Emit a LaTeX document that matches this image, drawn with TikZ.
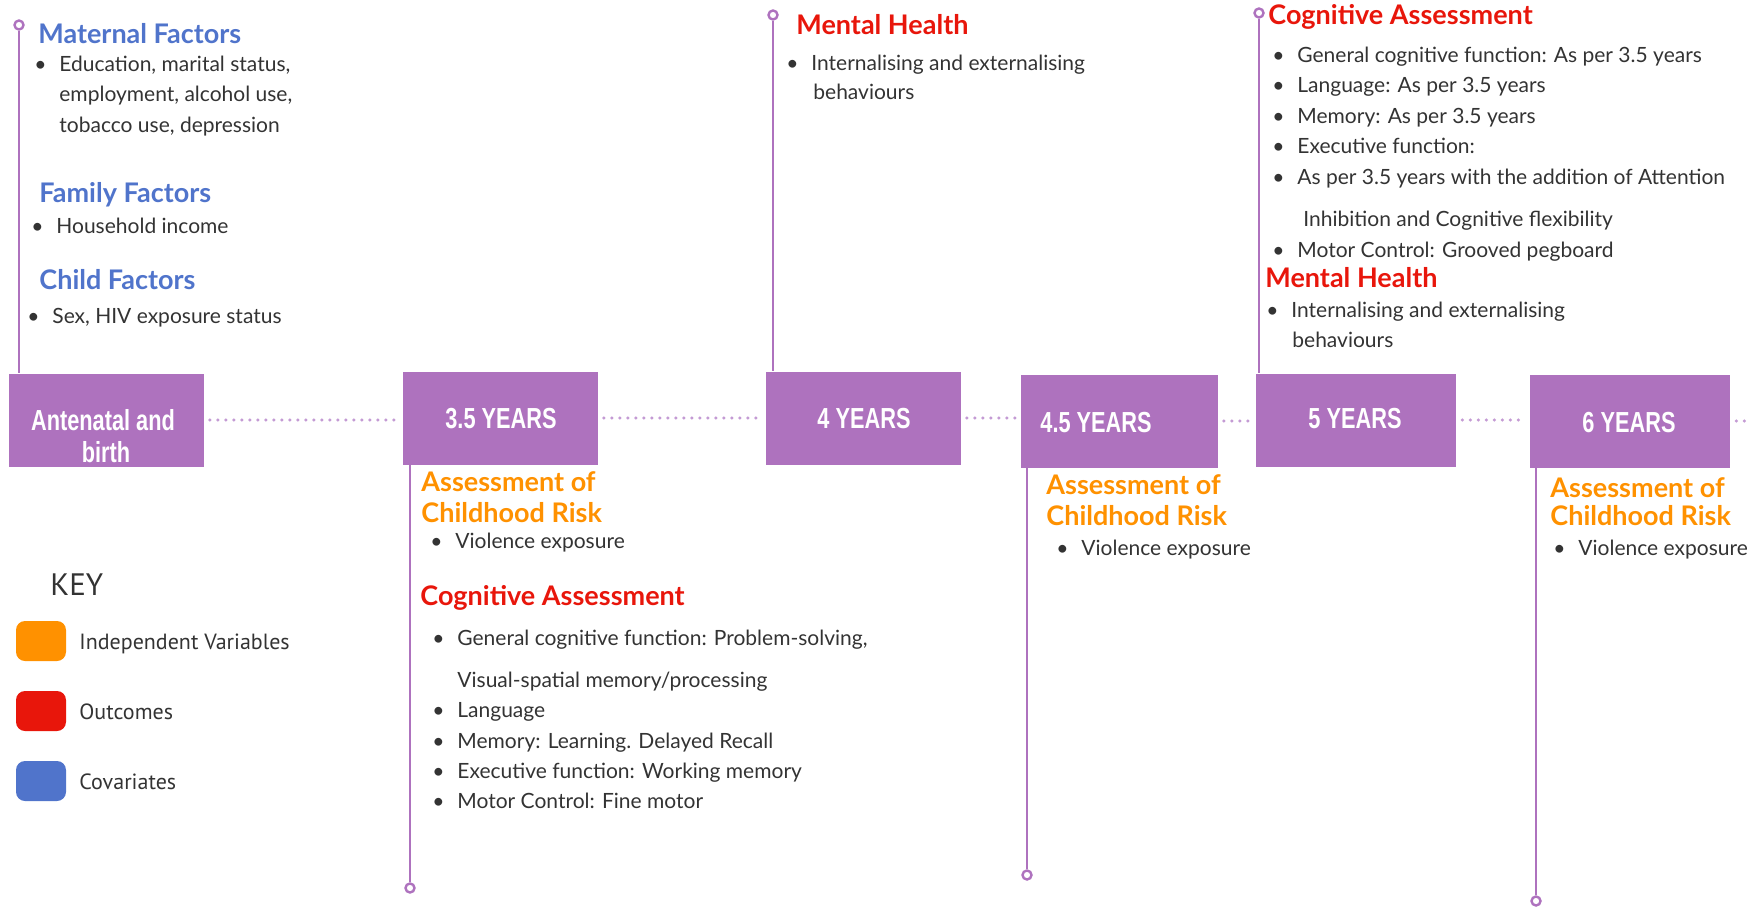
\documentclass[tikz,border=0pt]{standalone}
\usepackage{fontspec}
\setmainfont{Lato}
\newfontfamily\yearfont[FakeStretch=0.75]{Liberation Sans}
\newfontfamily\keyfont{PT Sans}

\definecolor{tlpurple}{HTML}{AE72BE}
\definecolor{tldots}{HTML}{C49BD4}
\definecolor{covblue}{HTML}{5074CB}
\definecolor{indorange}{HTML}{FF9100}
\definecolor{outred}{HTML}{E8160B}
\definecolor{txtgray}{HTML}{333333}

\newcommand{\tlbul}[1]{\makebox[9pt][l]{\hspace{-3.5pt}\textbullet}#1}

\tikzset{
	yearbox/.style={fill=tlpurple, minimum height=46.5pt, inner sep=0pt},
	yeartxt/.style={anchor=base, inner sep=0pt, text=white, font=\yearfont\bfseries\fontsize{14.5}{16}\selectfont},
	tlstem/.style={tlpurple, line width=1.4pt},
	endpt/.style={circle, draw=tlpurple, fill=white, line width=1.2pt, minimum size=4.5pt, inner sep=0pt},
	tldotline/.style={tldots, line width=1.7pt, line cap=round, dash pattern=on 0pt off 4pt, shorten <=3pt, shorten >=2pt},
	hd/.style={anchor=base west, inner sep=0pt, font=\bfseries\fontsize{13.5}{15}\selectfont},
	hdcov/.style={hd, text=covblue},
	hdind/.style={hd, text=indorange},
	hdout/.style={hd, text=outred},
	bodytxt/.style={anchor=base west, inner sep=0pt, text=txtgray, font=\fontsize{10.5}{12}\selectfont},
	swatch/.style={rounded corners=4.5pt, minimum width=25pt, minimum height=20pt, inner sep=0pt},
	keytxt/.style={anchor=base west, inner sep=0pt, text=txtgray, font=\keyfont\fontsize{11}{13}\selectfont}
}

\begin{document}
\begin{tikzpicture}[x=0.5pt, y=-0.5pt]
	\useasboundingbox (0,0) rectangle (1755,909);

	% time line boxes
	\foreach \n/\x/\y/\w in {ante/106/420/195, y35/500/418/195, y4/863/418/195, y45/1119/421/197, y5/1356/420/200, y6/1630/421/200}
	{
		\node[yearbox, minimum width=\w*0.5pt] (\n) at (\x,\y) {};
	}
	\node[yeartxt] (ante-t1) at (103,430) {Antenatal and};
	\node[yeartxt] (ante-t2) at (106,462) {birth};
	\foreach \n/\x/\y/\t in {y35/501/428/3.5 YEARS, y4/864/428/4 YEARS, y45/1096/432/4.5 YEARS, y5/1355/428/5 YEARS, y6/1629/432/6 YEARS}
	{
		\node[yeartxt] (\n-t) at (\x,\y) {\t};
	}

	\coordinate (lineend) at (1755,421);
	\foreach \a/\b in {ante/y35, y35/y4, y4/y45, y45/y5, y5/y6}
	{
		\draw[tldotline] (\a.east) -- (\a.east -| \b.west);
	}
	\draw[tldotline] (y6.east) -- (y6.east -| lineend);

	% stems
	\foreach \n/\x/\y/\s in {ante/19/25/north, y4/773/15/north, y5/1259/13/north, y35/410/888/south, y45/1027/875/south, y6/1536/901/south}
	{
		\node[endpt] (p-\n) at (\x,\y) {};
		\draw[tlstem] (p-\n) -- (p-\n |- \n.\s);
	}

	% antenatal
	\node[hdcov] (mat) at (38,44) {Maternal Factors};
	\foreach \x/\y/\t [count=\i] in {41/72/{\tlbul{Education, marital status,}}, 59/102/{employment, alcohol use,}, 59/133/{tobacco use, depression}}
	{
		\node[bodytxt] (mat\i) at (\x,\y) {\t};
	}
	\node[hdcov] (fam) at (39,203) {Family Factors};
	\node[bodytxt] (fam1) at (38,234) {\tlbul{Household income}};
	\node[hdcov] (chi) at (39,289) {Child Factors};
	\node[bodytxt] (chi1) at (34,323) {\tlbul{Sex, HIV exposure status}};

	% 3.5 years
	\node[hdind] (r35a) at (421,491) {Assessment of};
	\node[hdind] (r35b) at (421,522) {Childhood Risk};
	\node[bodytxt] (r35c) at (437,548) {\tlbul{Violence exposure}};
	\node[hdout] (c35) at (420,605) {Cognitive Assessment};
	\foreach \x/\y/\t [count=\i] in {439/645/{\tlbul{General cognitive function: Problem-solving,}}, 457/687/{Visual-spatial memory/processing}, 439/717/{\tlbul{Language}}, 439/748/{\tlbul{Memory: Learning. Delayed Recall}}, 439/778/{\tlbul{Executive function: Working memory}}, 439/808/{\tlbul{Motor Control: Fine motor}}}
	{
		\node[bodytxt] (c35-\i) at (\x,\y) {\t};
	}

	% 4 years
	\node[hdout] (m4) at (796,35) {Mental Health};
	\node[bodytxt] (m4-1) at (793,71) {\tlbul{Internalising and externalising}};
	\node[bodytxt] (m4-2) at (813,100) {behaviours};

	% 4.5 years
	\node[hdind] (r45a) at (1046,494) {Assessment of};
	\node[hdind] (r45b) at (1046,525) {Childhood Risk};
	\node[bodytxt] (r45c) at (1063,555) {\tlbul{Violence exposure}};

	% 5 years
	\node[hdout] (c5) at (1268,25) {Cognitive Assessment};
	\foreach \x/\y/\t [count=\i] in {1279/63/{\tlbul{General cognitive function: As per 3.5 years}}, 1279/93/{\tlbul{Language: As per 3.5 years}}, 1279/124/{\tlbul{Memory: As per 3.5 years}}, 1279/154/{\tlbul{Executive function:}}, 1279/185/{\tlbul{As per 3.5 years with the addition of Attention}}, 1303/227/{Inhibition and Cognitive flexibility}, 1279/257/{\tlbul{Motor Control: Grooved pegboard}}}
	{
		\node[bodytxt] (c5-\i) at (\x,\y) {\t};
	}
	\node[hdout] (m5) at (1265,287) {Mental Health};
	\node[bodytxt] (m5-1) at (1273,317) {\tlbul{Internalising and externalising}};
	\node[bodytxt] (m5-2) at (1292,347) {behaviours};

	% 6 years
	\node[hdind] (r6a) at (1550,497) {Assessment of};
	\node[hdind] (r6b) at (1550,525) {Childhood Risk};
	\node[bodytxt] (r6c) at (1560,555) {\tlbul{Violence exposure}};

	% key
	\node[keytxt, font=\keyfont\fontsize{15.5}{18}\selectfont] (key) at (50,595) {KEY};
	\foreach \c/\y/\t [count=\i] in {indorange/641/Independent Variables, outred/711/Outcomes, covblue/781/Covariates}
	{
		\node[swatch, fill=\c] (sw\i) at (41,\y) {};
		\node[keytxt] (kl\i) at (79,{\y+8}) {\t};
	}
\end{tikzpicture}
\end{document}
